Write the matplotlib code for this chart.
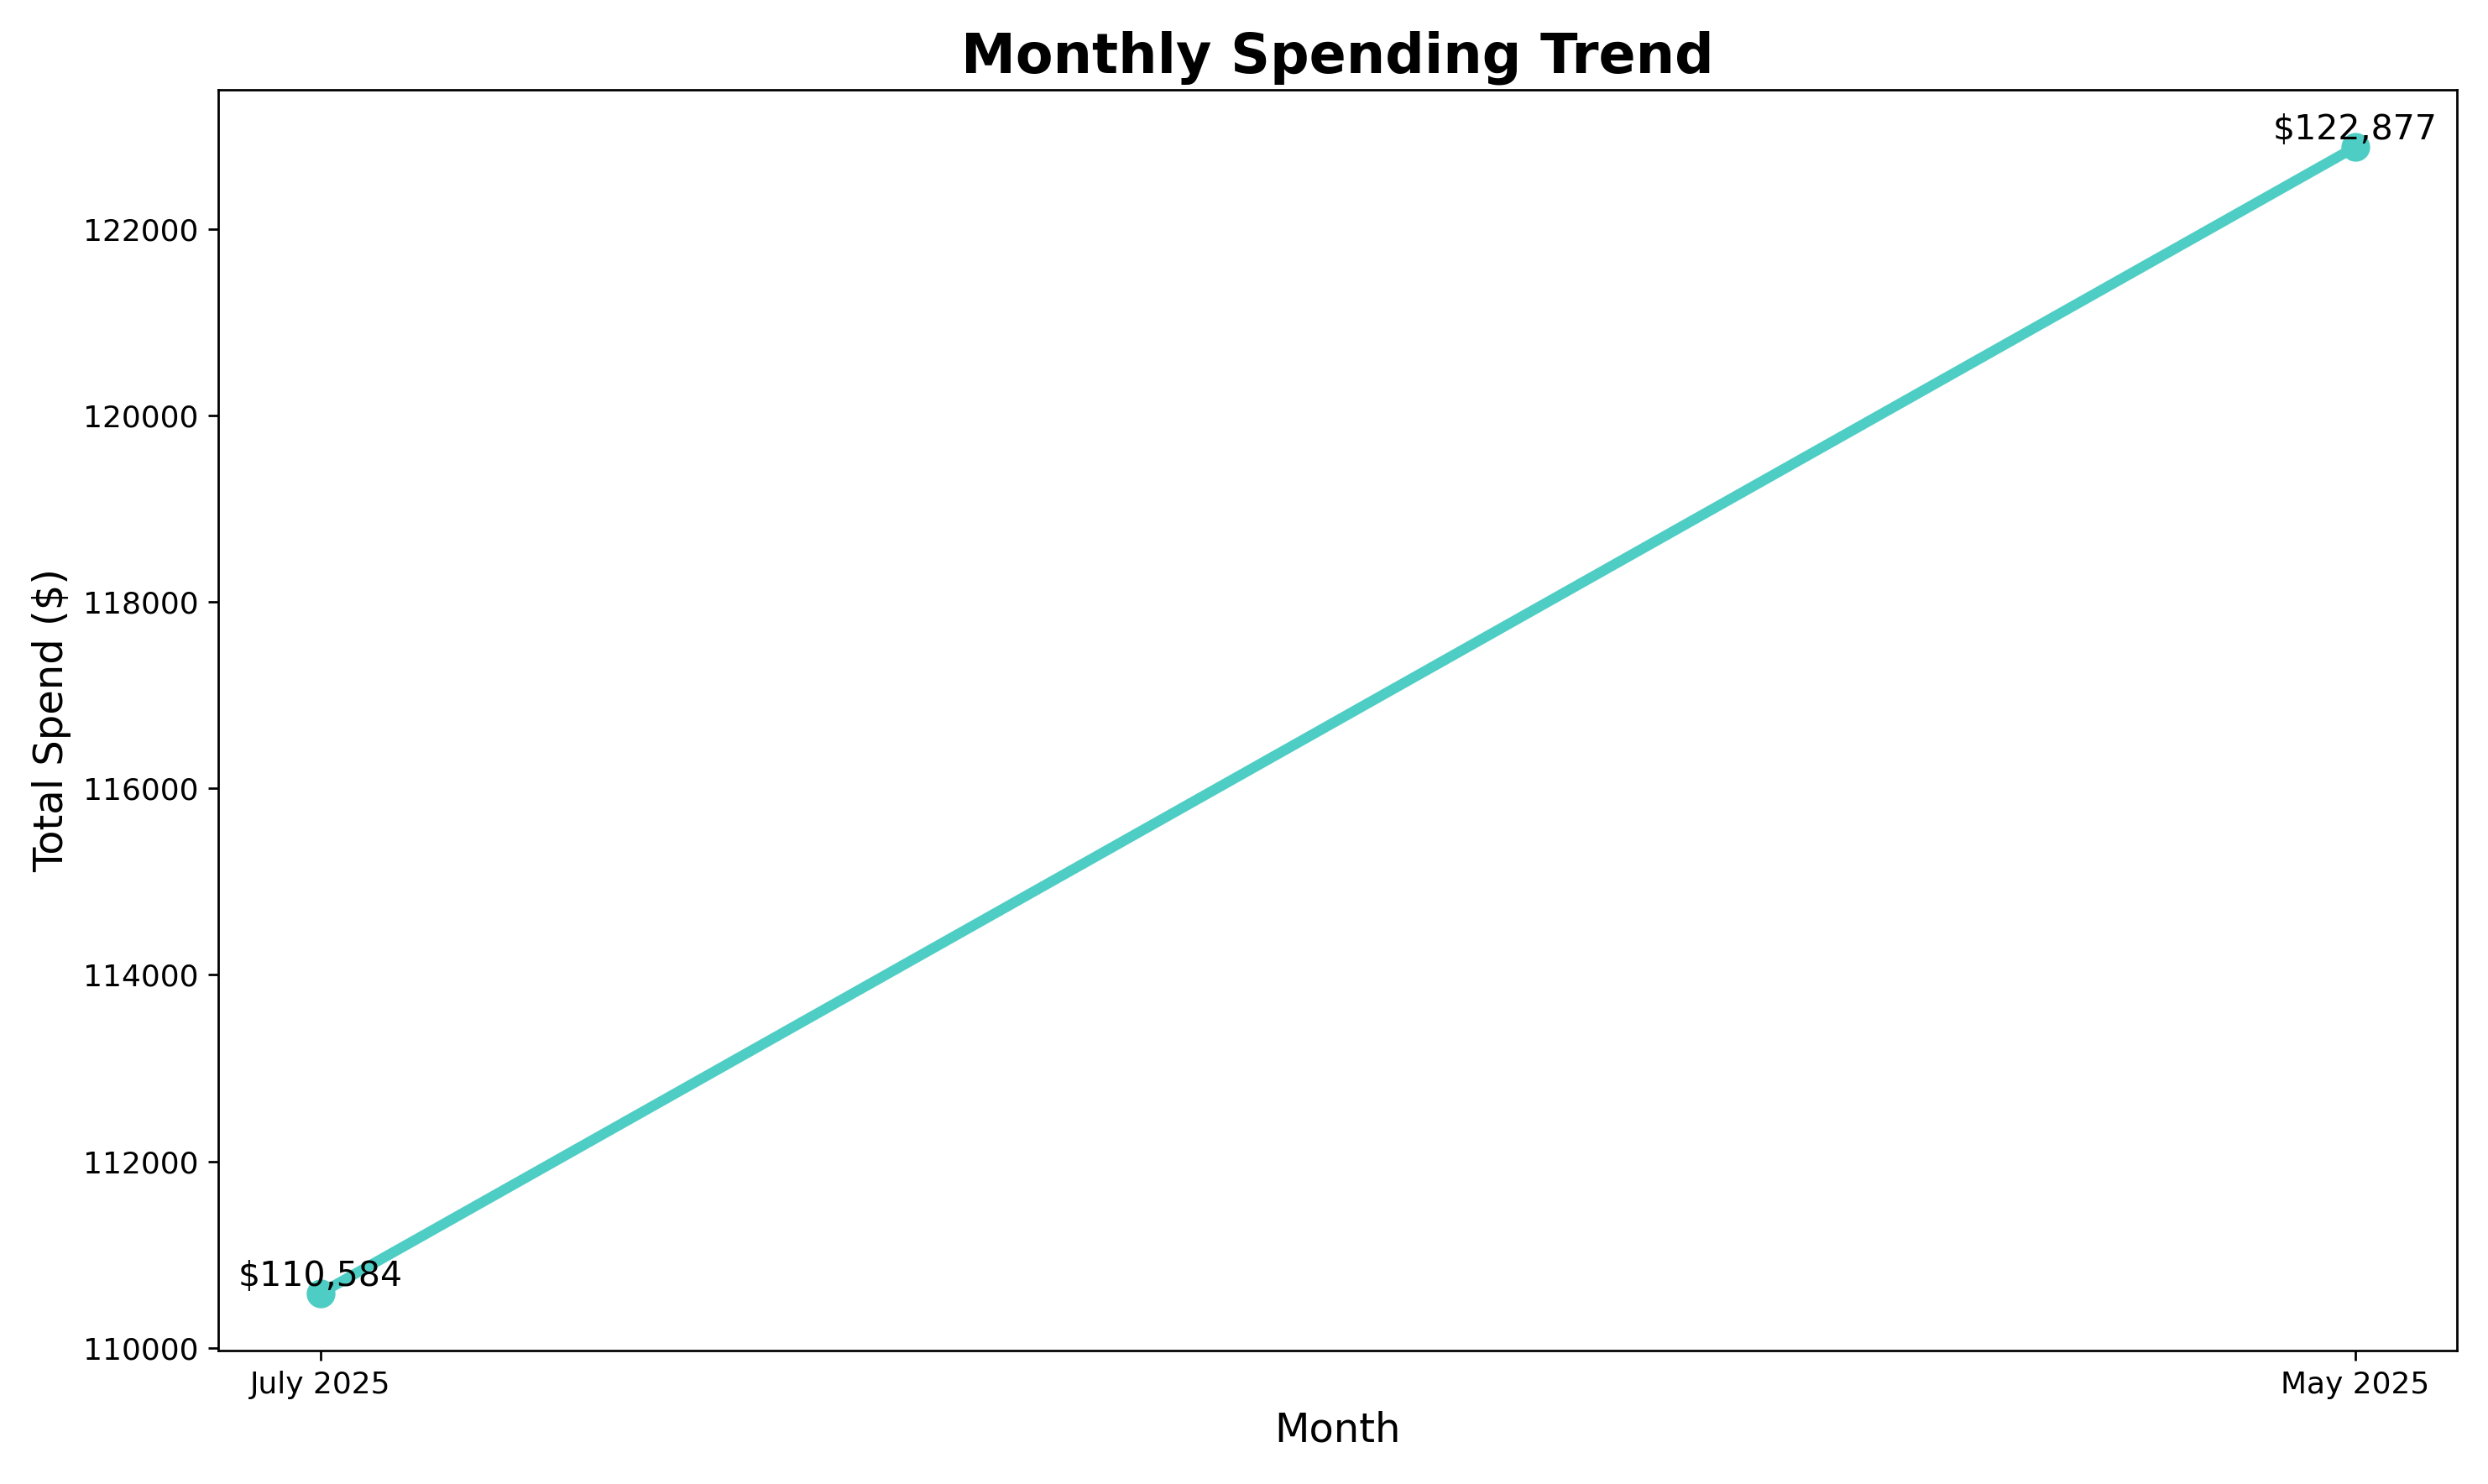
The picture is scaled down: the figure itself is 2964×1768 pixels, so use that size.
import matplotlib.pyplot as plt

months = ["July 2025", "May 2025"]
spend = [110584, 122877]

fig, ax = plt.subplots(figsize=(12, 7.158))
ax.plot(months, spend, color="#4ECDC4", linewidth=3.6, marker="o", markersize=9)
for m, v in zip(months, spend):
    ax.text(m, v, "${:,.0f}".format(v), ha="center", va="bottom", fontsize=12)

ax.set_title("Monthly Spending Trend", fontsize=19, fontweight="bold")
ax.set_xlabel("Month", fontsize=14)
ax.set_ylabel("Total Spend ($)", fontsize=14)
ax.tick_params(labelsize=10.5)
plt.tight_layout()
plt.savefig("out.png", dpi=247)
